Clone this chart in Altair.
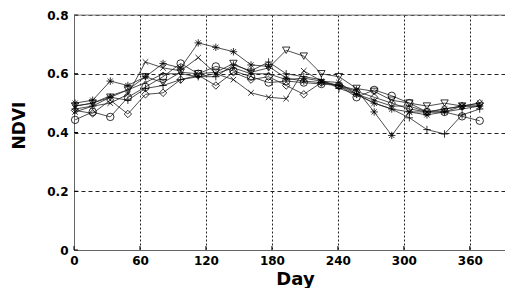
import altair as alt
import pandas as pd

days = [1, 17, 33, 49, 65, 81, 97, 113, 129, 145, 161, 177, 193, 209, 225, 241,
        257, 273, 289, 305, 321, 337, 353, 369]

s_star = [0.50, 0.51, 0.575, 0.56, 0.59, 0.635, 0.62, 0.705, 0.69, 0.675, 0.63, 0.625,
          0.585, 0.575, 0.57, 0.56, 0.545, 0.47, 0.39, 0.47, 0.46, 0.47, 0.49, 0.49]
s_plus = [0.48, 0.49, 0.52, 0.51, 0.55, 0.56, 0.58, 0.59, 0.59, 0.63, 0.61, 0.64,
          0.60, 0.59, 0.58, 0.55, 0.53, 0.50, 0.48, 0.45, 0.41, 0.395, 0.46, 0.48]
s_circle = [0.443, 0.47, 0.453, 0.52, 0.555, 0.59, 0.635, 0.60, 0.625, 0.61, 0.59, 0.57,
            0.575, 0.57, 0.565, 0.56, 0.52, 0.545, 0.525, 0.50, 0.47, 0.47, 0.455, 0.44]
s_diamond = [0.475, 0.465, 0.51, 0.463, 0.53, 0.535, 0.58, 0.595, 0.56, 0.605, 0.58, 0.59,
             0.56, 0.53, 0.57, 0.56, 0.54, 0.52, 0.50, 0.48, 0.47, 0.48, 0.49, 0.50]
s_tri = [0.49, 0.50, 0.52, 0.545, 0.59, 0.57, 0.605, 0.60, 0.605, 0.635, 0.605, 0.62,
         0.68, 0.66, 0.60, 0.59, 0.55, 0.54, 0.51, 0.50, 0.49, 0.50, 0.49, 0.49]
s_x = [0.47, 0.49, 0.50, 0.53, 0.64, 0.62, 0.61, 0.655, 0.60, 0.58, 0.535, 0.52,
       0.515, 0.61, 0.575, 0.57, 0.53, 0.50, 0.48, 0.47, 0.47, 0.48, 0.49, 0.50]
s_dot = [0.49, 0.50, 0.525, 0.545, 0.57, 0.60, 0.60, 0.59, 0.60, 0.62, 0.60, 0.60,
         0.58, 0.585, 0.575, 0.56, 0.53, 0.51, 0.49, 0.49, 0.47, 0.47, 0.48, 0.49]

series_names = ["star", "plus", "circle", "diamond", "tri", "x", "dot"]
series_vals = [s_star, s_plus, s_circle, s_diamond, s_tri, s_x, s_dot]
shapes = [
    "M-1,0L1,0M0,-1L0,1M-0.7,-0.7L0.7,0.7M-0.7,0.7L0.7,-0.7",
    "M-1,0L1,0M0,-1L0,1",
    "circle",
    "diamond",
    "triangle-down",
    "M-0.75,-0.75L0.75,0.75M-0.75,0.75L0.75,-0.75",
    "M-0.35,0A0.35,0.35 0 1,0 0.35,0A0.35,0.35 0 1,0 -0.35,0",
]

x_ticks = [0, 60, 120, 180, 240, 300, 360]
y_ticks = [0, 0.2, 0.4, 0.6, 0.8]

rows = []
for name, vals in zip(series_names, series_vals):
    for d, v in zip(days, vals):
        rows.append({"day": d, "ndvi": v, "series": name})
df = pd.DataFrame(rows)

W, H = 431, 235
FONT = "DejaVu Sans"

xscale = alt.Scale(domain=[0, 392], nice=False, zero=False)
yscale = alt.Scale(domain=[0, 0.8], nice=False)

xaxis = alt.Axis(values=x_ticks, title="Day", labelFont=FONT, labelFontWeight="bold",
                 labelFontSize=12, labelColor="black", labelPadding=5,
                 grid=True, gridDash=[2, 2], gridColor="#222", gridWidth=1,
                 ticks=False, domainColor="#666", titleFont=FONT, titleFontSize=18,
                 titleFontWeight="bold", titleColor="black", titleY=20, titleX=221,
                 titleAlign="center", titleBaseline="top", labelFlush=False)
yaxis = alt.Axis(values=y_ticks, title="NDVI", labelFont=FONT, labelFontWeight="bold",
                 labelFontSize=12, labelColor="black", labelPadding=6,
                 labelExpr="datum.value == 0 ? '0' : format(datum.value, '.1f')",
                 grid=True, gridDash=[4, 3], gridColor="#222", gridWidth=1,
                 ticks=False, domainColor="#666", titleFont=FONT, titleFontSize=17,
                 titleFontWeight="bold", titleColor="black", titleAngle=270,
                 titleX=-55, titleY=110, titleBaseline="middle", titleAlign="center",
                 labelFlush=False)

base = alt.Chart(df)
lines = base.mark_line(color="#222", strokeWidth=0.8).encode(
    x=alt.X("day:Q", scale=xscale, axis=xaxis),
    y=alt.Y("ndvi:Q", scale=yscale, axis=yaxis),
    detail="series:N",
)
points = base.mark_point(filled=False, color="black", strokeWidth=0.8, size=55, opacity=1).encode(
    x=alt.X("day:Q", scale=xscale),
    y=alt.Y("ndvi:Q", scale=yscale),
    shape=alt.Shape("series:N", scale=alt.Scale(domain=series_names, range=shapes), legend=None),
)

xt = alt.Chart(pd.DataFrame({"t": x_ticks})).mark_rule(color="black", strokeWidth=1).encode(
    x=alt.X("t:Q", scale=xscale), y=alt.value(H), y2=alt.value(H - 4))
yt = alt.Chart(pd.DataFrame({"t": y_ticks})).mark_rule(color="black", strokeWidth=1).encode(
    y=alt.Y("t:Q", scale=yscale), x=alt.value(0), x2=alt.value(4))
top = alt.Chart(pd.DataFrame({"t": [0]})).mark_rule(color="#888", strokeWidth=1).encode(
    y=alt.value(0), x=alt.value(0), x2=alt.value(W))

chart = alt.layer(lines, points, xt, yt, top).properties(
    width=W, height=H,
    autosize=alt.AutoSizeParams(type="none"),
    padding={"left": 66, "top": 7, "right": 0, "bottom": 38},
).configure_view(stroke=None).configure(background="white")

chart.save("out.html", embed_options={"renderer": "svg", "actions": False})
